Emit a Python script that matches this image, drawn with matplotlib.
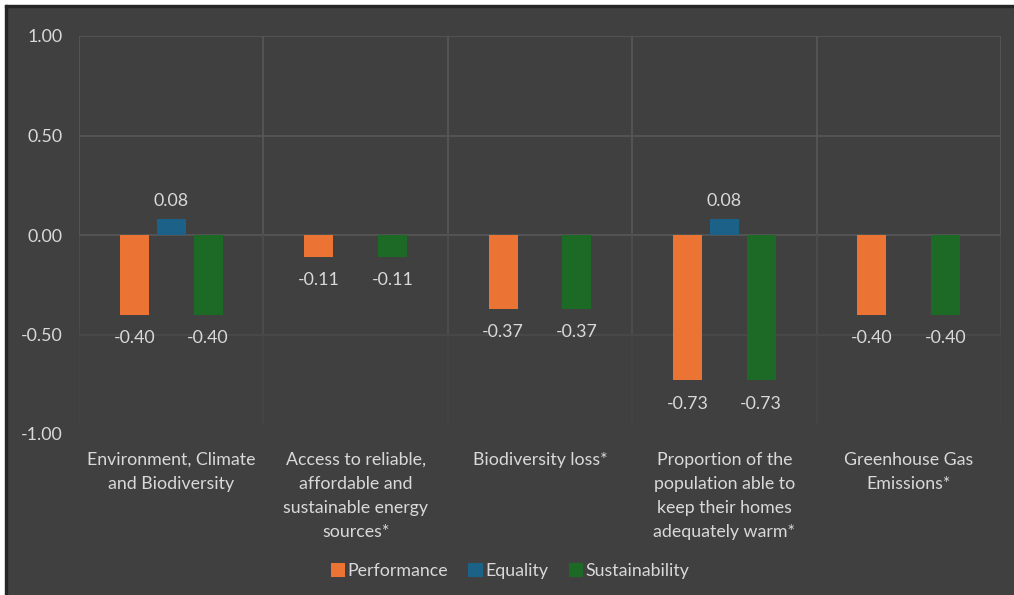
import numpy as np
import matplotlib
matplotlib.use("Agg")
import matplotlib.pyplot as plt
from matplotlib.patches import Rectangle

plt.rcParams['font.family'] = ['Lato', 'DejaVu Sans']

# data
categories = [
    "Environment, Climate\nand Biodiversity",
    "Access to reliable,\naffordable and\nsustainable energy\nsources*",
    "Biodiversity loss*",
    "Proportion of the\npopulation able to\nkeep their homes\nadequately warm*",
    "Greenhouse Gas\nEmissions*",
]
performance = [-0.40, -0.11, -0.37, -0.73, -0.40]
equality = [0.08, np.nan, np.nan, 0.08, np.nan]
sustainability = [-0.40, -0.11, -0.37, -0.73, -0.40]

series = [("Performance", performance, "#EB7434"),
          ("Equality", equality, "#1C6187"),
          ("Sustainability", sustainability, "#1C6A25")]

bg = "#404040"
txt = "#D9D9D9"
grid = "#585858"
fs = 12.8

fig = plt.figure(figsize=(10.14, 5.95), dpi=100, facecolor=bg)
ax = fig.add_axes([79 / 1014, 1 - 434 / 595, 922 / 1014, 398 / 595])
ax.set_facecolor(bg)

# frame lines at top / left like the screenshot
fig.patches.append(Rectangle((0, 1 - 5 / 595), 1, 5 / 595, transform=fig.transFigure,
                             color="white", zorder=0))
fig.patches.append(Rectangle((0, 0), 5 / 1014, 1, transform=fig.transFigure,
                             color="white", zorder=0))
fig.patches.append(Rectangle((5 / 1014, 1 - 7 / 595), 1, 2 / 595, transform=fig.transFigure,
                             color="#262626", zorder=0))
fig.patches.append(Rectangle((5 / 1014, 0), 2 / 1014, 1 - 5 / 595, transform=fig.transFigure,
                             color="#262626", zorder=0))

x = np.arange(len(categories))
width = 0.157
offsets = [-0.2, 0, 0.2]

ax.set_xlim(-0.5, len(categories) - 0.5)
ax.set_ylim(-1.0, 1.0)

# gridlines (fading towards the bottom)
for yv, c in [(1.0, grid), (0.5, grid), (0.0, grid), (-0.5, "#4a4a4a")]:
    ax.axhline(yv, color=c, lw=1.2, zorder=0)
for xv in np.arange(-0.5, len(categories), 1.0):
    ax.plot([xv, xv], [1.0, 0.0], color=grid, lw=1.2, zorder=0)
    ax.plot([xv, xv], [0.0, -0.5], color="#4e4e4e", lw=1.2, zorder=0)
    ax.plot([xv, xv], [-0.5, -0.95], color="#464646", lw=1.2, zorder=0)

for (name, vals, col), off in zip(series, offsets):
    vals = np.array(vals, dtype=float)
    ax.bar(x + off, np.nan_to_num(vals), width, color=col, label=name, zorder=2)
    for xi, v in zip(x + off, vals):
        if np.isnan(v):
            continue
        if v > 0:
            ax.annotate(f"{v:.2f}", (xi, v), xytext=(0, 7.5), textcoords="offset points",
                        ha="center", va="bottom", color=txt, fontsize=fs)
        else:
            ax.annotate(f"{v:.2f}", (xi, v), xytext=(0, -11), textcoords="offset points",
                        ha="center", va="top", color=txt, fontsize=fs)

for s in ax.spines.values():
    s.set_visible(False)

ax.set_yticks([1.0, 0.5, 0.0, -0.5, -1.0])
ax.set_yticklabels([f"{v:.2f}" for v in [1.0, 0.5, 0.0, -0.5, -1.0]])
ax.tick_params(axis='y', length=0, pad=12, labelcolor=txt, labelsize=fs)
ax.set_xticks(x)
ax.set_xticklabels(categories, linespacing=1.62)
ax.tick_params(axis='x', length=0, pad=13, labelcolor=txt, labelsize=fs)

fig.legend(loc="center", bbox_to_anchor=(0.503, 1 - 571 / 595), ncol=3, frameon=False,
           labelcolor=txt, fontsize=fs, handlelength=0.8, handleheight=0.8,
           handletextpad=0.15, columnspacing=1.15)

fig.savefig("out.png", dpi=100, facecolor=bg)
